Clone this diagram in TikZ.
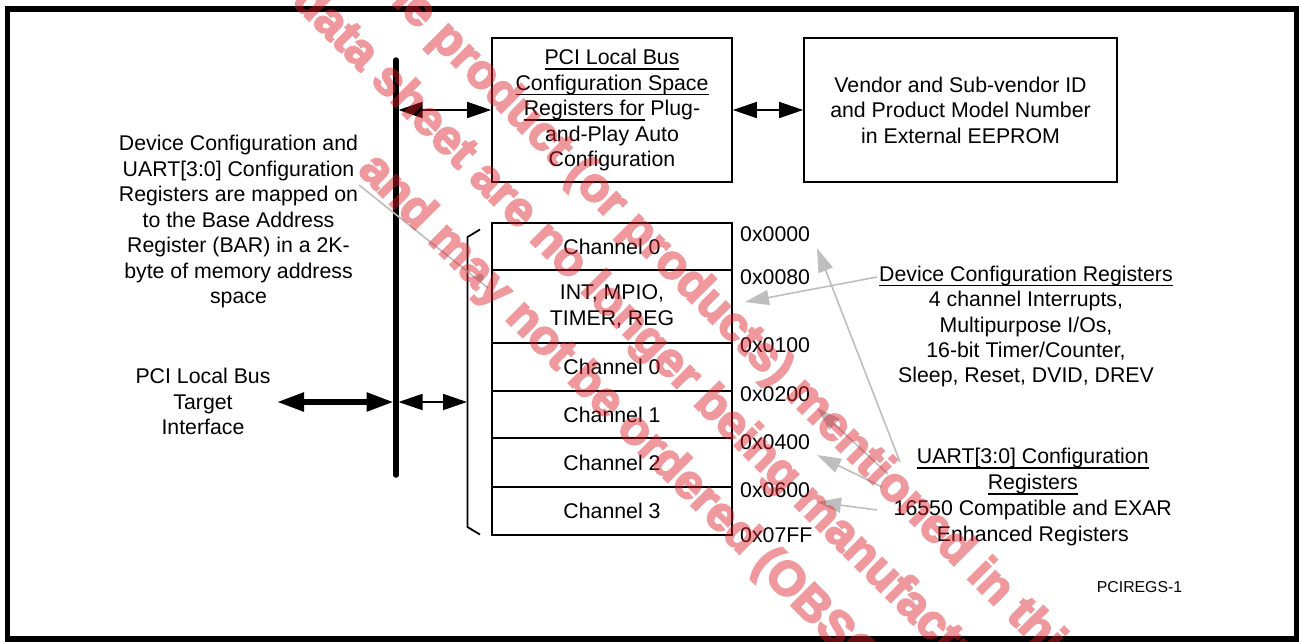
\documentclass[tikz,border=0pt]{standalone}
\usepackage{fontspec}
\setmainfont{Liberation Sans}
\newfontfamily\wmfamily[FakeBold=4]{Liberation Sans}
\usetikzlibrary{arrows.meta,calc}
\definecolor{wmred}{RGB}{220,30,40}
\definecolor{lgray}{RGB}{190,190,190}
\newcommand\myul[1]{\setbox0=\hbox{#1}\rlap{\rule[-5pt]{\wd0}{1.5pt}}\box0\relax}
\newcommand\mainfs{\fontsize{21.3}{25.5}\selectfont}
\newcommand\wmfs{\wmfamily\fontsize{48}{50}\selectfont\bfseries}
\begin{document}
\begin{tikzpicture}[x=1pt,y=-1pt,
  txt/.style={font=\mainfs, align=center, inner sep=0},
  box/.style={draw, line width=1.8, inner sep=0, font=\mainfs, align=center},
  reg/.style={box, minimum width=240},
  addrlbl/.style={font=\mainfs, inner sep=0, anchor=west},
  dbl/.style={line width=1.8, {Triangle[length=24,width=16]}-{Triangle[length=24,width=16]}},
  bigdbl/.style={line width=5.5, {Triangle[length=27,width=18]}-{Triangle[length=27,width=18]}},
  garrow/.style={draw=lgray, line width=1.6, -{Triangle[length=24,width=15]}},
  wm/.style={rotate=-45, inner sep=0, anchor=base west, text=wmred, font=\wmfs}]
\useasboundingbox (0,0) rectangle (1299,641);
\fill[white] (0,0) rectangle (1299,641);
% frame
\draw[line width=5.5] (7.5,9) rectangle (1296.5,639);

% bus
\coordinate (bustop) at (396,60);
\coordinate (busbot) at (396,475);
\draw[line width=5.5, line cap=round] (bustop) -- (busbot);

% top boxes
\node[box, minimum width=240, minimum height=144] (pci) at (612,110)
  {\myul{PCI Local Bus}\\\myul{Configuration Space}\\\myul{Registers for} Plug-\\and-Play Auto\\Configuration};
\node[box, minimum width=313, minimum height=144] (ven) at (960.5,110)
  {Vendor and Sub-vendor ID\\and Product Model Number\\in External EEPROM};

\coordinate (b1) at (398.5,110);
\draw[dbl] (b1) -- (pci.west);
\draw[dbl] (pci.east) -- (ven.west);

% left texts
\node[txt] (lt) at (238.5,221.5)
  {Device Configuration and\\UART[3:0] Configuration\\Registers are mapped on\\to the Base Address\\Register (BAR) in a 2K-\\byte of memory address\\space};
\node[txt] (tg) at (203,401.5) {PCI Local Bus\\Target\\Interface};

% register stack
\node[reg, minimum height=47] (r0) at (612,246.5) {Channel 0};
\node[reg, minimum height=73] (r1) at (612,306.5) {INT, MPIO,\\TIMER, REG};
\node[reg, minimum height=48] (r2) at (612,367) {Channel 0};
\node[reg, minimum height=47] (r3) at (612,414.5) {Channel 1};
\node[reg, minimum height=49] (r4) at (612,462.5) {Channel 2};
\node[reg, minimum height=48] (r5) at (612,511) {Channel 3};

% bracket
\draw[line width=1.8] (480,229.5) -- (467.5,237) -- (467.5,527) -- (480,534.5);
\coordinate (brk) at (467,402);

% bus arrows
\coordinate (tgR) at (277,402);
\coordinate (bL) at (393.5,402);
\coordinate (b2) at (398.5,402);
\draw[bigdbl] (tgR) -- (bL);
\draw[dbl] (b2) -- (brk);

% addresses
\node[addrlbl] (a0) at (740,234.5) {0x0000};
\node[addrlbl] (a1) at (740,277.5) {0x0080};
\node[addrlbl] (a2) at (740,345.5) {0x0100};
\node[addrlbl] (a3) at (740,394.5) {0x0200};
\node[addrlbl] (a4) at (740,442.5) {0x0400};
\node[addrlbl] (a5) at (740,490.5) {0x0600};
\node[addrlbl] (a6) at (740,535.5) {0x07FF};

% right texts
\node[txt, font=\fontsize{21.3}{25.3}\selectfont] (dcr) at (1026,326.5)
  {\myul{Device Configuration Registers}\\4 channel Interrupts,\\Multipurpose I/Os,\\16-bit Timer/Counter,\\Sleep, Reset, DVID, DREV};
\node[txt, font=\fontsize{21.3}{25.7}\selectfont] (ur) at (1032.8,497)
  {\myul{UART[3:0] Configuration}\\\myul{Registers}\\16550 Compatible and EXAR\\Enhanced Registers};
\node[inner sep=0, font=\fontsize{15.8}{18}\selectfont] (id) at (1139.5,587) {PCIREGS-1};

% gray pointers
\coordinate (lts) at (359,185);
\coordinate (lte) at (488,288);
\draw[lgray, line width=1.6] (lts) -- (lte);
\fill[lgray] (480,277.5) circle (4);

\coordinate (g1s) at (877,277);   \coordinate (g1e) at (745,302);
\coordinate (g2s) at (900,462);   \coordinate (g2e) at (817,248);
\coordinate (g3s) at (888,474);   \coordinate (g3e) at (817,408);
\coordinate (g4s) at (882,487);   \coordinate (g4e) at (817,455);
\coordinate (g5s) at (877,510);   \coordinate (g5e) at (817,502);
\draw[garrow] (g1s) -- (g1e);
\draw[garrow] (g2s) -- (g2e);
\draw[garrow] (g3s) -- (g3e);
\draw[garrow] (g4s) -- (g4e);
\draw[garrow] (g5s) -- (g5e);

% watermark
\begin{scope}
\clip (0,0) rectangle (1299,641);
\begin{scope}[transparency group, opacity=0.45]
\node[wm] (w1) at (358.3,-30.1) {The product (or products) mentioned in this};
\node[wm] (w2) at (290.5,2.1) {data sheet are no longer being manufactured};
\node[wm] (w3) at (356.8,171.4) {and may not be ordered (OBSOLETE)};
\end{scope}
\end{scope}
\end{tikzpicture}
\end{document}
